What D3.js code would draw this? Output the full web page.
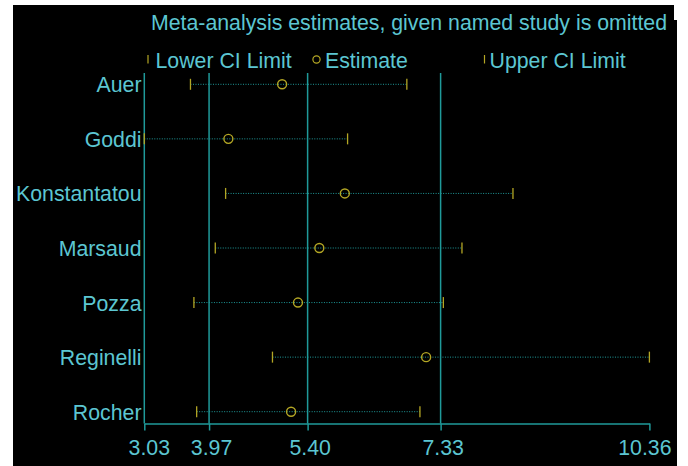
<!DOCTYPE html>
<html>
<head>
<meta charset="utf-8">
<script src="https://cdn.jsdelivr.net/npm/d3@7"></script>
<style>
  html, body { margin: 0; padding: 0; background: #ffffff; }
  svg { display: block; }
  text { font-family: "Liberation Sans", Arial, Helvetica, sans-serif; }
</style>
</head>
<body>
<svg id="chart" width="688" height="466"></svg>
<script>
// Leave-one-out meta-analysis: estimate and CI when each study is omitted
const studies   = ["Auer", "Goddi", "Konstantatou", "Marsaud", "Pozza", "Reginelli", "Rocher"];
const lowerCI   = [3.70, 3.03, 4.21, 4.06, 3.75, 4.89, 3.79];
const estimates = [5.03, 4.25, 5.94, 5.57, 5.26, 7.12, 5.16];
const upperCI   = [6.84, 5.98, 8.38, 7.64, 7.37, 10.36, 7.03];
const tickValues = [3.03, 3.97, 5.40, 7.33, 10.36];
const gridValues = [3.97, 5.40, 7.33];

const textColor = "#5cc6d2";
const lineColor = "#1f9a9a";
const markColor = "#b3a624";
const fontSize = 21.3;

const svg = d3.select("#chart");

// black panel
svg.append("rect").attr("x", 13).attr("y", 5).attr("width", 661).attr("height", 461).attr("fill", "#000");
svg.append("rect").attr("x", 13).attr("y", 20).attr("width", 664).attr("height", 446).attr("fill", "#000");

const x = d3.scaleLinear().domain([3.03, 10.36]).range([144.3, 649.4]);
const y = d3.scalePoint().domain(studies).range([84.3, 411.7]);
const plotTop = 73, plotBottom = 423.5;

// title
svg.append("text")
  .attr("x", 409).attr("y", 29.5)
  .attr("text-anchor", "middle")
  .attr("font-size", fontSize)
  .attr("fill", textColor)
  .text("Meta-analysis estimates, given named study is omitted");

// legend
const legY = 59.5;
const leg = svg.append("g");
leg.append("line").attr("x1", 148).attr("x2", 148).attr("y1", legY - 4.5).attr("y2", legY + 4)
  .attr("stroke", markColor).attr("stroke-width", 1.2);
leg.append("text").attr("x", 155.5).attr("y", legY + 8).attr("font-size", fontSize).attr("fill", textColor).text("Lower CI Limit");
leg.append("circle").attr("cx", 316.5).attr("cy", legY).attr("r", 3.6)
  .attr("fill", "none").attr("stroke", markColor).attr("stroke-width", 1.2);
leg.append("text").attr("x", 325).attr("y", legY + 8).attr("font-size", fontSize).attr("fill", textColor).text("Estimate");
leg.append("line").attr("x1", 484.5).attr("x2", 484.5).attr("y1", legY - 4.5).attr("y2", legY + 4)
  .attr("stroke", markColor).attr("stroke-width", 1.2);
leg.append("text").attr("x", 489.5).attr("y", legY + 8).attr("font-size", fontSize).attr("fill", textColor).text("Upper CI Limit");

// vertical reference lines
svg.append("g").selectAll("line").data(gridValues).join("line")
  .attr("x1", d => x(d)).attr("x2", d => x(d))
  .attr("y1", plotTop).attr("y2", plotBottom)
  .attr("stroke", lineColor).attr("stroke-width", 1.5);

// left axis line
svg.append("line")
  .attr("x1", x(3.03)).attr("x2", x(3.03))
  .attr("y1", plotTop).attr("y2", plotBottom)
  .attr("stroke", lineColor).attr("stroke-width", 1.5);

// bottom axis; end labels are pulled slightly inward
const xAxis = d3.axisBottom(x).tickValues(tickValues).tickFormat(d3.format(".2f")).tickSize(7).tickSizeOuter(0);
const gx = svg.append("g").attr("transform", `translate(0,${plotBottom})`).call(xAxis);
gx.select(".domain").attr("stroke", lineColor).attr("stroke-width", 1.5);
gx.selectAll(".tick line").attr("stroke", lineColor).attr("stroke-width", 1.5);
const nTicks = tickValues.length;
gx.selectAll(".tick text").attr("fill", textColor).attr("font-size", fontSize)
  .attr("font-family", "Liberation Sans, Arial, sans-serif")
  .attr("y", 31).attr("dy", 0)
  .attr("x", (d, i) => i === 0 ? 4.5 : (i === nTicks - 1 ? -5 : 2));

// study labels
svg.append("g").selectAll("text").data(studies).join("text")
  .attr("x", 141.5).attr("y", d => y(d) + 8)
  .attr("text-anchor", "end")
  .attr("font-size", fontSize)
  .attr("fill", textColor)
  .text(d => d);

const rows = studies.map((s, i) => ({ s, lo: lowerCI[i], est: estimates[i], hi: upperCI[i] }));

// dotted CI lines
svg.append("g").selectAll("line").data(rows).join("line")
  .attr("x1", d => x(d.lo)).attr("x2", d => x(d.hi))
  .attr("y1", d => y(d.s)).attr("y2", d => y(d.s))
  .attr("stroke", lineColor).attr("stroke-width", 1)
  .attr("stroke-dasharray", "1,1.5");

// lower and upper limit ticks
const ends = rows.flatMap(d => [{ s: d.s, v: d.lo }, { s: d.s, v: d.hi }]);
svg.append("g").selectAll("line").data(ends).join("line")
  .attr("x1", d => x(d.v)).attr("x2", d => x(d.v))
  .attr("y1", d => y(d.s) - 5.5).attr("y2", d => y(d.s) + 5.5)
  .attr("stroke", markColor).attr("stroke-width", 1.3);

// estimates
svg.append("g").selectAll("circle").data(rows).join("circle")
  .attr("cx", d => x(d.est)).attr("cy", d => y(d.s))
  .attr("r", 4.5)
  .attr("fill", "none").attr("stroke", markColor).attr("stroke-width", 1.4);
</script>
</body>
</html>
